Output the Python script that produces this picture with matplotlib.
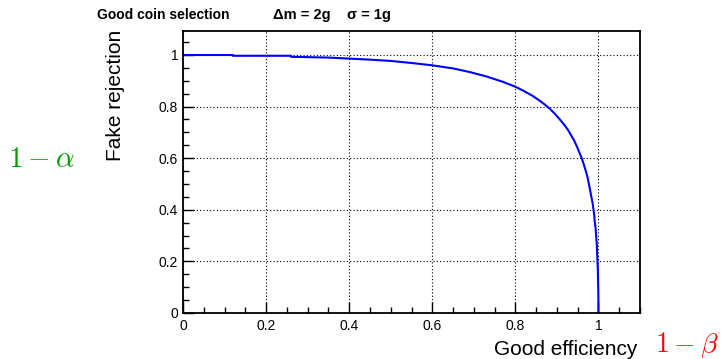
import matplotlib
matplotlib.use("Agg")
import matplotlib.pyplot as plt
from matplotlib.ticker import MultipleLocator

plt.rcParams['font.family'] = ['Liberation Sans', 'DejaVu Sans']
plt.rcParams['mathtext.fontset'] = 'cm'

# ROC curve: good efficiency vs fake rejection
efficiency = [0.0, 0.12, 0.12, 0.26, 0.26, 0.35, 0.40, 0.45, 0.50, 0.55, 0.60,
              0.65, 0.69, 0.73, 0.77, 0.80, 0.82, 0.84, 0.855, 0.87, 0.884, 0.894,
              0.905, 0.915, 0.925, 0.933, 0.941, 0.948, 0.954, 0.960, 0.965, 0.970,
              0.974, 0.977, 0.980, 0.983, 0.986, 0.988, 0.990, 0.991, 0.993, 0.994,
              0.995, 0.996, 0.997, 0.998, 0.9987, 0.9993, 0.9998, 1.0, 1.0]
rejection = [1.0, 1.0, 0.997, 0.997, 0.993, 0.990, 0.986, 0.982, 0.977, 0.969, 0.960,
             0.948, 0.934, 0.917, 0.896, 0.877, 0.861, 0.843, 0.827, 0.809, 0.790, 0.774,
             0.754, 0.735, 0.714, 0.692, 0.670, 0.646, 0.622, 0.599, 0.574, 0.548,
             0.524, 0.500, 0.475, 0.450, 0.425, 0.401, 0.378, 0.355, 0.331, 0.309,
             0.287, 0.265, 0.227, 0.19, 0.159, 0.11, 0.067, 0.02, 0.0]

title_main = "Good coin selection"
title_dm = "\u0394m = 2g"
title_sigma = "\u03c3 = 1g"
xlabel = "Good efficiency"
ylabel = "Fake rejection"
xticks = [0, 0.2, 0.4, 0.6, 0.8, 1]
yticks = [0, 0.2, 0.4, 0.6, 0.8, 1]
xticklabels = ["0", "0.2", "0.4", "0.6", "0.8", "1"]
yticklabels = ["0", "0.2", "0.4", "0.6", "0.8", "1"]

fig = plt.figure(figsize=(7.24, 3.59), dpi=100)
ax = fig.add_axes([183/724, 46/359, (640-183)/724, (313-31)/359])
ax.plot(efficiency, rejection, color=(0, 0, 1), lw=1.5)
ax.set_xlim(0, 1.1)
ax.set_ylim(0, 1.093)
ax.set_xticks(xticks)
ax.set_xticklabels(xticklabels)
ax.set_yticks(yticks)
ax.set_yticklabels(yticklabels)
ax.xaxis.set_minor_locator(MultipleLocator(0.05))
ax.yaxis.set_minor_locator(MultipleLocator(0.05))
ax.tick_params(which='both', direction='in', top=False, right=False, labelsize=10)
ax.tick_params(which='major', length=8, width=1)
ax.tick_params(which='minor', length=4, width=1)
ax.tick_params(axis='x', pad=4)
for s in ax.spines.values():
    s.set_linewidth(1.3)
ax.grid(True, which='major', linestyle=(0, (1, 2)), color='black', lw=0.8)

fig.text(97/724, 1 - 15/359, title_main, fontsize=10, fontweight='bold', ha='left', va='center')
fig.text(273/724, 1 - 15/359, title_dm, fontsize=10.5, fontweight='bold', ha='left', va='center')
fig.text(347/724, 1 - 15/359, title_sigma, fontsize=10.5, fontweight='bold', ha='left', va='center')
fig.text(115/724, 1 - 30/359, ylabel, fontsize=15, rotation=90, ha='center', va='top')
fig.text(637/724, 1 - 355/359, xlabel, fontsize=15, ha='right', va='baseline')
fig.text(8/724, 1 - 167/359, r'$1-\alpha$', fontsize=21, color=(0, 0.6, 0), ha='left', va='baseline')
fig.text(655/724, 1 - 352/359, r'$1-\beta$', fontsize=20, color=(1, 0, 0), ha='left', va='baseline')

fig.savefig("out.png", dpi=100)
